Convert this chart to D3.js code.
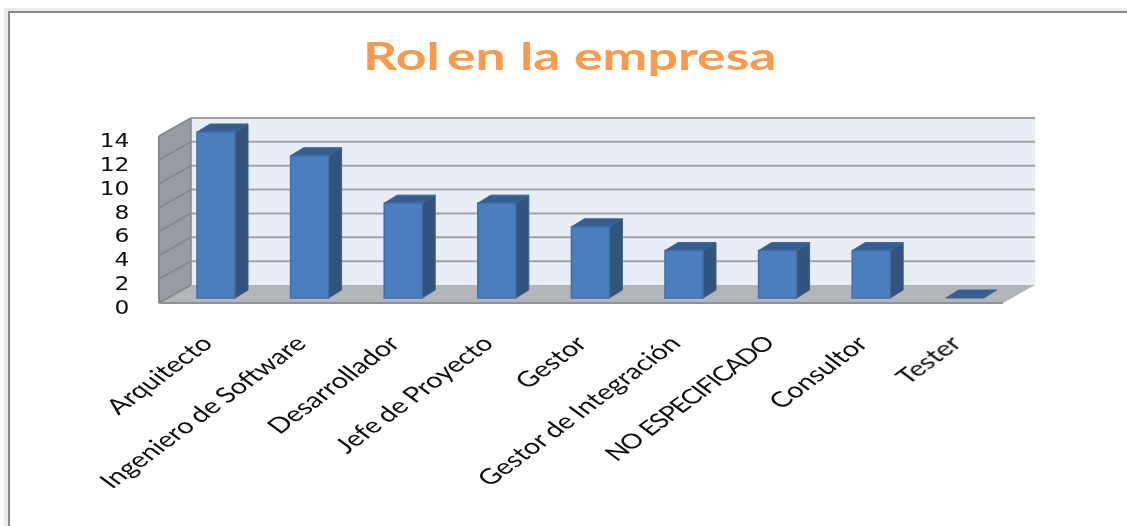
<!DOCTYPE html>
<html><head><meta charset="utf-8">
<script src="https://cdn.jsdelivr.net/npm/d3@7"></script>
<style>html,body{margin:0;padding:0;background:#fff;overflow:hidden}svg{display:block}</style>
</head><body>
<script>
const titleWords = ["Rol","en","la","empresa"];
const categories = ["Arquitecto","Ingeniero de Software","Desarrollador","Jefe de Proyecto","Gestor","Gestor de Integración","NO ESPECIFICADO","Consultor","Tester"];
const values = [14,12,8,8,6,4,4,4,0];
const yTicks = [0,2,4,6,8,10,12,14];

const W=1127,H=526;
const svg=d3.select("body").append("svg").attr("width",W).attr("height",H);
const defs=svg.append("defs");
const f=defs.append("filter").attr("id","soft").attr("x","-5%").attr("y","-5%").attr("width","110%").attr("height","110%");
f.append("feGaussianBlur").attr("stdDeviation",0.6);
const f2=defs.append("filter").attr("id","softText").attr("x","-10%").attr("y","-10%").attr("width","120%").attr("height","120%");
f2.append("feGaussianBlur").attr("stdDeviation",0.35);

// frame
svg.append("rect").attr("x",4).attr("y",8).attr("width",W-4).attr("height",H-8).attr("fill","#ebebeb");
svg.append("rect").attr("x",8).attr("y",11).attr("width",W-8).attr("height",H-11).attr("fill","#8a8a8a");
svg.append("rect").attr("x",10).attr("y",13).attr("width",W-10).attr("height",H-13).attr("fill","#fff");

const dWall={x:32,y:-18};
const x0=159,x1=1003;
const yFloor=d3.scaleLinear().domain([0,14]).range([303,136]);
const yBar=d3.scaleLinear().domain([0,14]).range([298,132]);
const x=d3.scaleBand().domain(categories).range([169.2,1011.6]).paddingInner(0.594).paddingOuter(0.297);
const dBar={x:13,y:-8};

const g=svg.append("g").attr("filter","url(#soft)");
const poly=(pts,fill,stroke,sw)=>g.append("polygon").attr("points",pts.map(p=>p.join(",")).join(" ")).attr("fill",fill).attr("stroke",stroke||"none").attr("stroke-width",sw||0);

poly([[x0+dWall.x,yFloor(14)+dWall.y],[x1+dWall.x,yFloor(14)+dWall.y],[x1+dWall.x,yFloor(0)+dWall.y],[x0+dWall.x,yFloor(0)+dWall.y]],"#e8edf6");
poly([[x0,yFloor(14)],[x0+dWall.x,yFloor(14)+dWall.y],[x0+dWall.x,yFloor(0)+dWall.y],[x0,yFloor(0)]],"#989ca2");
poly([[x0,yFloor(0)],[x1,yFloor(0)],[x1+dWall.x,yFloor(0)+dWall.y],[x0+dWall.x,yFloor(0)+dWall.y]],"#b2b5b9");
yTicks.forEach(t=>{
  if(t>0) g.append("line").attr("x1",x0+dWall.x).attr("x2",x1+dWall.x).attr("y1",yFloor(t)+dWall.y).attr("y2",yFloor(t)+dWall.y).attr("stroke","#a3a3a6").attr("stroke-width",2);
  g.append("line").attr("x1",x0).attr("x2",x0+dWall.x).attr("y1",yFloor(t)).attr("y2",yFloor(t)+dWall.y).attr("stroke","#828589").attr("stroke-width",1.5);
});
g.append("line").attr("x1",x0).attr("x2",x0).attr("y1",yFloor(14)).attr("y2",yFloor(0)).attr("stroke","#85888c").attr("stroke-width",2);
g.append("line").attr("x1",x0+dWall.x).attr("x2",x0+dWall.x).attr("y1",yFloor(14)+dWall.y).attr("y2",yFloor(0)+dWall.y).attr("stroke","#85888c").attr("stroke-width",1.5);
g.append("line").attr("x1",x0).attr("x2",x1).attr("y1",yFloor(0)).attr("y2",yFloor(0)).attr("stroke","#8e9195").attr("stroke-width",2);

categories.forEach((c,i)=>{
  const l=x(c),r=l+x.bandwidth(),t=yBar(values[i]),b=yBar(0);
  if(values[i]>0){
    poly([[r,t],[r+dBar.x,t+dBar.y],[r+dBar.x,b+dBar.y],[r,b]],"#31527c","#3a5f8f",1);
  }
  poly([[l,t],[l+dBar.x,t+dBar.y],[r+dBar.x,t+dBar.y],[r,t]],"#355f92","#3a669b",1);
  if(values[i]>0){
    poly([[l,t],[r,t],[r,b],[l,b]],"#4c7ebc","#3f6ea8",1.5);
  }
});

const texts=svg.append("g").attr("filter","url(#softText)");
yTicks.forEach(t=>{
  texts.append("text").attr("transform",`translate(129.5,${yFloor(t)+11}) scale(1.17,1)`)
    .attr("text-anchor","end").attr("font-family","DejaVu Sans").attr("font-size",20).attr("fill","#111").text(t);
});
// x labels: rotated 45 deg, then widened like the reference
const k=1.35;
categories.forEach(c=>{
  const cx=x(c)+x.bandwidth()/2;
  const caps=c===c.toUpperCase();
  texts.append("text").attr("transform",`translate(${cx-7},341) scale(${k},1) rotate(-45)`)
    .attr("text-anchor","end").attr("dominant-baseline","middle").attr("font-family","Lato").attr("font-size",caps?20.5:21.5)
    .attr("word-spacing",caps?1:-1).attr("letter-spacing",caps?-1:0).attr("fill","#111").text(c);
});
// title
const tk=1.41;
const title=texts.append("text").attr("transform",`translate(0,70) scale(${tk},1)`).attr("font-family","Lato").attr("font-weight","bold").attr("font-size",38).attr("fill","#f99a4e");
const wordX=[363,447,520,574];
titleWords.forEach((w,i)=>{
  title.append("tspan").attr("x",wordX[i]/tk).text(w+(i<titleWords.length-1?" ":""));
});
</script>
</body></html>
